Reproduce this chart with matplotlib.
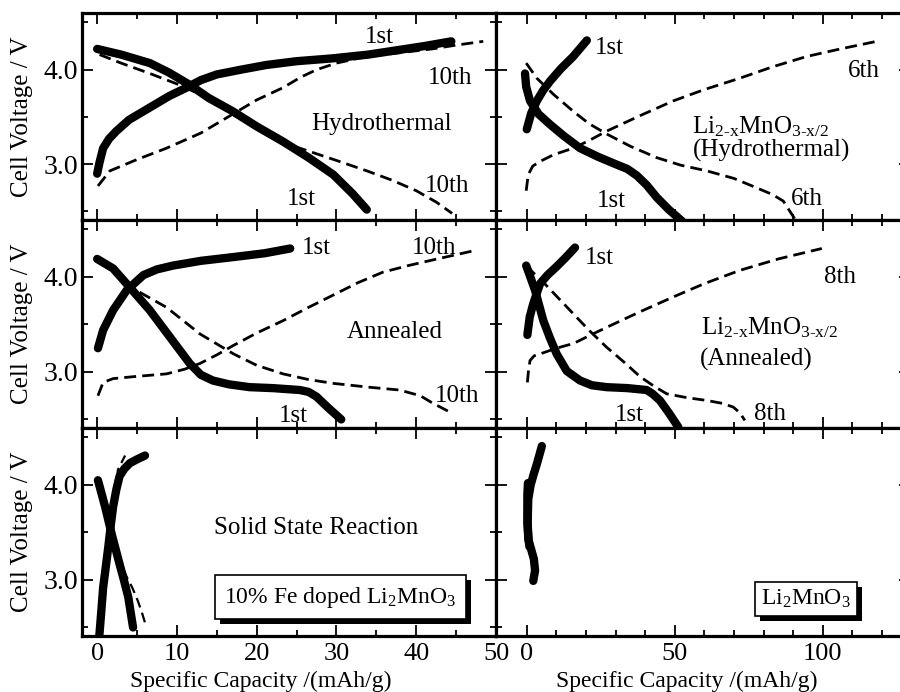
import matplotlib.pyplot as plt
import matplotlib.patheffects as pe
from matplotlib.ticker import MultipleLocator

plt.rcParams['font.family'] = ['Liberation Serif', 'DejaVu Serif']
plt.rcParams['mathtext.fontset'] = 'custom'
plt.rcParams['mathtext.rm'] = 'Liberation Serif'
plt.rcParams['mathtext.default'] = 'regular'

# --- Fe doped, hydrothermal (top left)
hyd_ch1_x = [0, 0.3, 0.75, 1.5, 2.4, 4, 6.6, 9, 11.2, 13, 15, 18, 21.2, 25, 29.5, 34, 37.9, 41, 44.4]
hyd_ch1_y = [2.90, 3.02, 3.17, 3.27, 3.35, 3.47, 3.60, 3.72, 3.81, 3.89, 3.95, 4.00, 4.05, 4.09, 4.12, 4.16, 4.21, 4.25, 4.30]
hyd_dis1_x = [0, 3, 6.6, 9, 11.6, 14, 17, 20, 23.3, 26.5, 29.6, 32, 33.8]
hyd_dis1_y = [4.22, 4.16, 4.07, 3.97, 3.84, 3.70, 3.56, 3.40, 3.24, 3.07, 2.89, 2.69, 2.52]
hyd_ch10_x = [0.1, 1.6, 5, 8.7, 13, 17, 20, 23.3, 25.5, 27.5, 30, 33.8, 38, 42, 45, 48.4]
hyd_ch10_y = [2.77, 2.93, 3.05, 3.17, 3.33, 3.53, 3.68, 3.81, 3.92, 4.00, 4.07, 4.14, 4.18, 4.22, 4.26, 4.30]
hyd_dis10_x = [0.3, 3, 6.6, 10, 12.9, 16, 19.1, 22, 25.4, 30, 33.8, 37, 40, 42.5, 44.5]
hyd_dis10_y = [4.16, 4.07, 3.96, 3.85, 3.74, 3.58, 3.42, 3.28, 3.17, 3.04, 2.93, 2.83, 2.72, 2.60, 2.48]

# --- Li2-xMnO3-x/2, hydrothermal (top right)
lmh_ch1_x = [0, 1.5, 3.4, 5.5, 7.9, 11.5, 15.7, 20.3]
lmh_ch1_y = [3.37, 3.54, 3.67, 3.78, 3.88, 4.01, 4.14, 4.31]
lmh_dis1_x = [-0.6, -0.2, 1.1, 4, 7.9, 12.5, 18, 24, 29.3, 34, 37.2, 40.5, 43.9, 48, 52.4]
lmh_dis1_y = [3.96, 3.82, 3.67, 3.53, 3.42, 3.30, 3.17, 3.08, 3.01, 2.95, 2.88, 2.78, 2.65, 2.52, 2.40]
lmh_ch6_x = [-0.2, 0.5, 2, 4.5, 9, 15.7, 21, 27, 38, 49.5, 60, 72, 83, 94.6, 106, 118.2]
lmh_ch6_y = [2.72, 2.89, 2.98, 3.03, 3.10, 3.17, 3.25, 3.35, 3.51, 3.67, 3.79, 3.91, 4.03, 4.14, 4.22, 4.30]
lmh_dis6_x = [-0.2, 3.4, 9, 15.7, 21, 27, 35, 43.9, 52, 60.8, 70, 77.7, 83, 86.7, 90.6]
lmh_dis6_y = [4.07, 3.91, 3.74, 3.56, 3.43, 3.32, 3.19, 3.07, 2.99, 2.93, 2.85, 2.75, 2.68, 2.61, 2.42]

# --- Fe doped, annealed (middle left)
ann_ch1_x = [0.1, 0.75, 2, 3.7, 5.8, 7.5, 9.5, 13, 17.1, 21, 24.2]
ann_ch1_y = [3.25, 3.44, 3.65, 3.86, 4.02, 4.08, 4.12, 4.17, 4.21, 4.25, 4.30]
ann_dis1_x = [0, 2, 4.1, 6.6, 9.1, 11.6, 13, 14.5, 16.5, 19.1, 22, 25.4, 26.5, 27.5, 29, 30.6]
ann_dis1_y = [4.19, 4.09, 3.89, 3.65, 3.37, 3.09, 2.97, 2.91, 2.87, 2.84, 2.83, 2.81, 2.79, 2.74, 2.62, 2.50]
ann_ch10_x = [0.1, 0.75, 2, 4.5, 8.7, 11, 12.9, 15, 17.1, 20, 23.3, 26.5, 29.6, 32.7, 35.8, 39, 42.1, 47.4]
ann_ch10_y = [2.75, 2.89, 2.93, 2.95, 2.98, 3.03, 3.09, 3.18, 3.28, 3.41, 3.54, 3.68, 3.81, 3.94, 4.05, 4.12, 4.18, 4.28]
ann_dis10_x = [0, 2.5, 4.9, 8.7, 12.9, 17.1, 20, 23.3, 26.5, 29.6, 34, 37.9, 40.5, 42.1, 44.4]
ann_dis10_y = [4.19, 4.05, 3.86, 3.68, 3.40, 3.19, 3.07, 2.98, 2.92, 2.88, 2.84, 2.81, 2.75, 2.67, 2.57]

# --- Li2-xMnO3-x/2, annealed (middle right)
lma_ch1_x = [0.2, 1, 2.2, 4.5, 7, 10.1, 13, 16.3]
lma_ch1_y = [3.39, 3.58, 3.72, 3.93, 4.02, 4.11, 4.20, 4.31]
lma_dis1_x = [-0.2, 1.2, 2.8, 4.2, 5.6, 7.8, 10.1, 13.5, 18, 22, 27, 34, 40.5, 42.5, 45, 48, 51.2]
lma_dis1_y = [4.12, 4.00, 3.86, 3.70, 3.54, 3.36, 3.19, 3.01, 2.91, 2.86, 2.84, 2.83, 2.81, 2.77, 2.70, 2.57, 2.42]
lma_ch8_x = [0.2, 0.6, 1.1, 2.5, 4.5, 10, 15.8, 21, 27, 38, 49.5, 60, 72, 85, 99.7]
lma_ch8_y = [2.89, 3.02, 3.12, 3.17, 3.19, 3.25, 3.30, 3.38, 3.47, 3.63, 3.79, 3.93, 4.07, 4.19, 4.30]
lma_dis8_x = [0, 2, 4.5, 10, 15.8, 21, 27, 33, 38.3, 43, 47.3, 54, 60.8, 66, 69.8, 72, 73.7]
lma_dis8_y = [4.12, 4.05, 3.98, 3.80, 3.61, 3.44, 3.26, 3.10, 2.95, 2.85, 2.77, 2.73, 2.70, 2.67, 2.63, 2.57, 2.49]

# --- Fe doped, solid state (bottom left)
ssr_ch1_x = [0.25, 0.5, 0.75, 1.1, 1.4, 1.7, 2.0, 2.4, 2.8, 3.4, 4.1, 5.0, 6.0]
ssr_ch1_y = [2.39, 2.65, 2.92, 3.15, 3.35, 3.57, 3.77, 3.95, 4.09, 4.17, 4.23, 4.27, 4.31]
ssr_dis1_x = [0.1, 0.55, 1.0, 1.4, 1.8, 2.3, 2.8, 3.35, 3.9, 4.2, 4.5]
ssr_dis1_y = [4.05, 3.91, 3.77, 3.63, 3.49, 3.33, 3.17, 3.00, 2.82, 2.66, 2.50]
ssr_ch2_x = [0.3, 0.8, 1.4, 2.0, 2.2, 2.6, 3.5]
ssr_ch2_y = [2.45, 2.95, 3.35, 3.77, 3.88, 4.16, 4.31]
ssr_dis2_x = [0.1, 1.0, 1.8, 2.85, 3.6, 4.4, 5.1, 5.6, 6.0]
ssr_dis2_y = [4.05, 3.77, 3.49, 3.20, 3.05, 2.92, 2.78, 2.66, 2.55]

# --- Li2MnO3 (bottom right)
lmo_ch1_x = [2.2, 2.8, 2.4, 1.5, 0.6, 0.3, 0.5, 1.3, 2.4, 3.4, 4.3, 5.1]
lmo_ch1_y = [2.99, 3.10, 3.22, 3.32, 3.42, 3.60, 3.85, 4.00, 4.12, 4.22, 4.32, 4.41]
lmo_dis1_x = [0.4, 0.2, 0.2, 0.5, 0.9]
lmo_dis1_y = [4.02, 3.90, 3.60, 3.45, 3.35]

left_xticks = [0, 10, 20, 30, 40, 50]
right_xticks = [0, 50, 100]
yticks = [3.0, 4.0]
ytick_labels = ['3.0', '4.0']

W, H = 900, 692
fig = plt.figure(figsize=(9, 6.92), dpi=100)

cols = [(82, 496), (496, 910)]
rows = [(13, 220), (220, 428), (428, 636)]
xlims = [(-1.9, 50), (-10.4, 129.5)]


def make_ax(r, c):
    x0, x1 = cols[c]
    y0, y1 = rows[r]
    ax = fig.add_axes([x0 / W, 1 - y1 / H, (x1 - x0) / W, (y1 - y0) / H])
    ax.set_xlim(*xlims[c])
    ax.set_ylim(2.41, 4.60)
    if c == 0:
        ax.set_xticks(left_xticks)
        ax.xaxis.set_minor_locator(MultipleLocator(5))
    else:
        ax.set_xticks(right_xticks)
        ax.xaxis.set_minor_locator(MultipleLocator(10))
    ax.set_yticks(yticks)
    ax.yaxis.set_minor_locator(MultipleLocator(0.5))
    ax.tick_params(which='both', direction='in', top=True, right=True, width=1.3)
    ax.tick_params(which='major', length=8)
    ax.tick_params(which='minor', length=4)
    ax.tick_params(axis='x', labelsize=19, pad=5)
    ax.tick_params(axis='y', labelsize=20, pad=3)
    if c == 0:
        ax.set_yticklabels(ytick_labels)
    else:
        ax.set_yticklabels([])
    if r < 2:
        ax.set_xticklabels([])
    for s in ax.spines.values():
        s.set_linewidth(2.3)
    return ax


THICK = dict(color='black', lw=6, solid_capstyle='round', solid_joinstyle='round', zorder=3)
DASH = dict(color='black', lw=2, dashes=(4.3, 2.2), zorder=2)
LBL = dict(fontsize=18, ha='center', va='center')
LIX = r'Li$_{2\text{-}x}$MnO$_{3\text{-}x/2}$'

# top left
ax = make_ax(0, 0)
ax.plot(hyd_ch10_x, hyd_ch10_y, **DASH)
ax.plot(hyd_dis10_x, hyd_dis10_y, **DASH)
ax.plot(hyd_ch1_x, hyd_ch1_y, **THICK)
ax.plot(hyd_dis1_x, hyd_dis1_y, **THICK)
ax.text(35.4, 4.35, '1st', **LBL)
ax.text(44.3, 3.91, '10th', **LBL)
ax.text(35.7, 3.43, 'Hydrothermal', **LBL)
ax.text(25.6, 2.63, '1st', **LBL)
ax.text(43.9, 2.77, '10th', **LBL)

# top right
ax = make_ax(0, 1)
ax.plot(lmh_ch6_x, lmh_ch6_y, **DASH)
ax.plot(lmh_dis6_x, lmh_dis6_y, **DASH)
ax.plot(lmh_ch1_x, lmh_ch1_y, **THICK)
ax.plot(lmh_dis1_x, lmh_dis1_y, **THICK)
ax.text(27.8, 4.23, '1st', **LBL)
ax.text(114, 3.99, '6th', **LBL)
ax.text(56, 3.40, LIX, fontsize=18, ha='left', va='center')
ax.text(56, 3.15, '(Hydrothermal)', fontsize=18, ha='left', va='center')
ax.text(28.5, 2.61, '1st', **LBL)
ax.text(94.7, 2.63, '6th', **LBL)

# middle left
ax = make_ax(1, 0)
ax.plot(ann_ch10_x, ann_ch10_y, **DASH)
ax.plot(ann_dis10_x, ann_dis10_y, **DASH)
ax.plot(ann_ch1_x, ann_ch1_y, **THICK)
ax.plot(ann_dis1_x, ann_dis1_y, **THICK)
ax.text(27.5, 4.31, '1st', **LBL)
ax.text(42.3, 4.31, '10th', **LBL)
ax.text(37.3, 3.42, 'Annealed', **LBL)
ax.text(24.6, 2.54, '1st', **LBL)
ax.text(45.1, 2.75, '10th', **LBL)

# middle right
ax = make_ax(1, 1)
ax.plot(lma_ch8_x, lma_ch8_y, **DASH)
ax.plot(lma_dis8_x, lma_dis8_y, **DASH)
ax.plot(lma_ch1_x, lma_ch1_y, **THICK)
ax.plot(lma_dis1_x, lma_dis1_y, **THICK)
ax.text(24.4, 4.20, '1st', **LBL)
ax.text(106, 4.00, '8th', **LBL)
ax.text(59, 3.47, LIX, fontsize=18, ha='left', va='center')
ax.text(58.5, 3.13, '(Annealed)', fontsize=18, ha='left', va='center')
ax.text(34.6, 2.55, '1st', **LBL)
ax.text(82.2, 2.56, '8th', **LBL)

# bottom left
ax = make_ax(2, 0)
ax.plot(ssr_ch2_x, ssr_ch2_y, color='black', lw=1.6, dashes=(4.5, 2.5), zorder=2)
ax.plot(ssr_dis2_x, ssr_dis2_y, color='black', lw=1.6, dashes=(4.5, 2.5), zorder=2)
ax.plot(ssr_ch1_x, ssr_ch1_y, **THICK)
ax.plot(ssr_dis1_x, ssr_dis1_y, **THICK)
ax.text(27.4, 3.55, 'Solid State Reaction', **LBL)
box1 = ax.text(30.5, 2.82, '10% Fe doped Li$_2$MnO$_3$', fontsize=17, ha='center', va='center',
               bbox=dict(boxstyle='square,pad=0.4', fc='white', ec='black', lw=1.2))
box1.get_bbox_patch().set_path_effects([
    pe.SimplePatchShadow(offset=(3.5, -3.5), shadow_rgbFace='black', alpha=1.0), pe.Normal()])

# bottom right
ax = make_ax(2, 1)
ax.plot(lmo_dis1_x, lmo_dis1_y, **THICK)
ax.plot(lmo_ch1_x, lmo_ch1_y, **THICK)
box2 = ax.text(94.4, 2.80, 'Li$_2$MnO$_3$', fontsize=17, ha='center', va='center',
               bbox=dict(boxstyle='square,pad=0.25', fc='white', ec='black', lw=1.2))
box2.get_bbox_patch().set_path_effects([
    pe.SimplePatchShadow(offset=(3.5, -3.5), shadow_rgbFace='black', alpha=1.0), pe.Normal()])

# axis labels
for r in range(3):
    yc = (rows[r][0] + rows[r][1]) / 2
    fig.text(22 / W, 1 - yc / H, 'Cell Voltage / V', rotation=90, ha='center', va='center', fontsize=18)
fig.text(261 / W, 1 - 681 / H, 'Specific Capacity /(mAh/g)', ha='center', va='center', fontsize=17)
fig.text(687 / W, 1 - 681 / H, 'Specific Capacity /(mAh/g)', ha='center', va='center', fontsize=17)

fig.savefig('out.png', dpi=100)
